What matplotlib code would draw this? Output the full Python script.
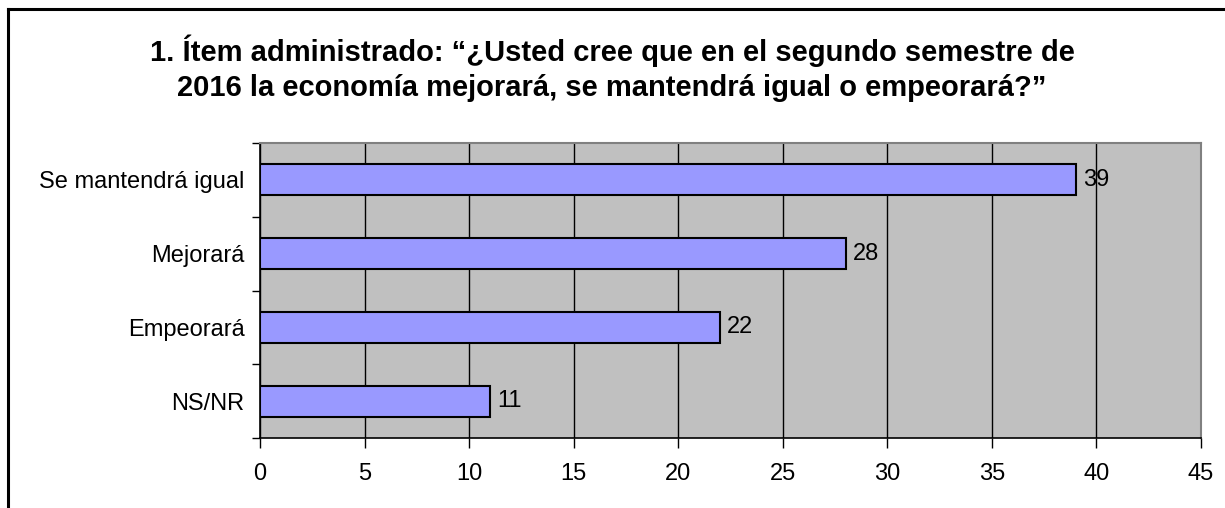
import matplotlib
matplotlib.use("Agg")
import matplotlib.pyplot as plt
from matplotlib.lines import Line2D
import numpy as np

# Data
categories = ["Se mantendrá igual", "Mejorará", "Empeorará", "NS/NR"]
values = [39, 28, 22, 11]
title = ("1. Ítem administrado: “¿Usted cree que en el segundo semestre de\n"
         "2016 la economía mejorará, se mantendrá igual o empeorará?”")

plt.rcParams['font.family'] = ['Liberation Sans', 'DejaVu Sans']

fig = plt.figure(figsize=(12.25, 5.08), dpi=100)
ax = fig.add_axes([260 / 1225, 1 - 438 / 508, 941 / 1225, 295 / 508])

y = np.arange(len(categories))
ax.set_facecolor('#C0C0C0')
ax.barh(y, values, height=0.42, color='#9999FF', edgecolor='black', linewidth=1.5, zorder=3)
for yi, v in zip(y, values):
    ax.text(v + 0.35, yi, str(v), va='center', ha='left', fontsize=17, zorder=4)

ax.set_xlim(0, 45)
ax.set_xticks(np.arange(0, 46, 5))
ax.set_ylim(len(categories) - 0.5, -0.5)
ax.set_yticks(y)
ax.set_yticklabels(categories)
ax.set_yticks(np.arange(-0.5, len(categories), 1), minor=True)
ax.tick_params(axis='y', which='major', length=0, pad=11, labelsize=17)
ax.tick_params(axis='y', which='minor', length=6, width=1, direction='out')
ax.tick_params(axis='x', length=7, width=1, direction='out', pad=11, labelsize=17)
ax.grid(axis='x', color='black', linewidth=1, zorder=1)
ax.set_axisbelow(True)

for side in ['top', 'right']:
    ax.spines[side].set_color('#808080')
    ax.spines[side].set_linewidth(1.5)
for side in ['left', 'bottom']:
    ax.spines[side].set_color('black')
    ax.spines[side].set_linewidth(1.2)

fig.text(612 / 1225, 1 - 68.5 / 508, title, ha='center', va='center',
         fontsize=21, fontweight='bold', linespacing=1.3)

# frame around the chart (only top and left visible in reference)
fig.add_artist(Line2D([8 / 1225, 1], [1 - 9 / 508, 1 - 9 / 508], color='black', linewidth=2.2))
fig.add_artist(Line2D([8 / 1225, 8 / 1225], [0, 1 - 9 / 508], color='black', linewidth=2.2))

fig.savefig("out.png", dpi=100)
